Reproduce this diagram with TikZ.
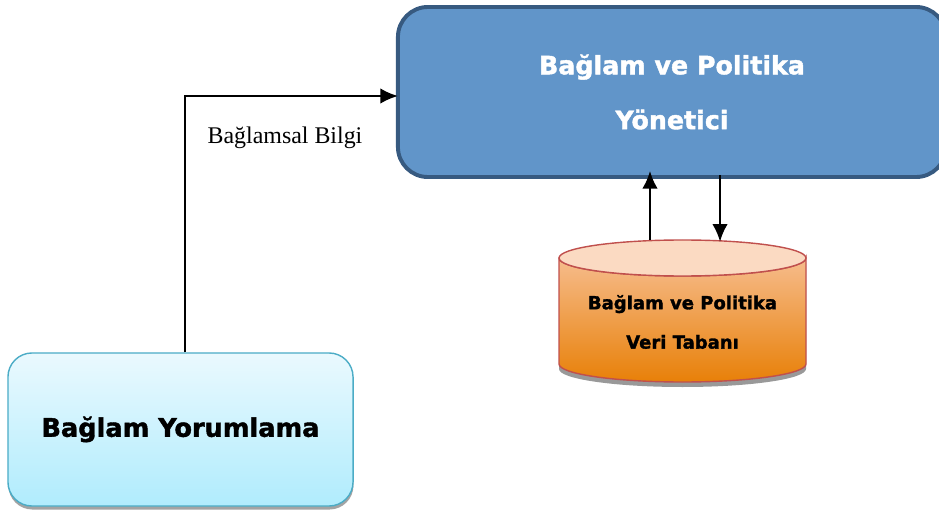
\documentclass[tikz,border=0pt]{standalone}
\usepackage{fontspec}
\setmainfont{Liberation Serif}
\newfontfamily\boldsans[FakeBold=1.6]{DejaVu Sans Bold}
\usetikzlibrary{arrows.meta,shadows}

\definecolor{mgrfill}{HTML}{6195C9}
\definecolor{mgrline}{HTML}{375A80}
\definecolor{interptop}{HTML}{EAF9FE}
\definecolor{interpbot}{HTML}{B0ECFD}
\definecolor{interpline}{HTML}{4BACC6}
\definecolor{dbtop}{HTML}{F6BC8C}
\definecolor{dbbot}{HTML}{E88008}
\definecolor{dbend}{HTML}{FBDAC2}
\definecolor{dbline}{HTML}{C0504D}

\tikzset{
  mgrbox/.style={draw=mgrline, line width=2.8pt, fill=mgrfill, rounded corners=0.75cm,
    minimum width=13.7cm, minimum height=4.25cm, align=center, text=white,
    font=\boldsans\fontsize{18}{39}\selectfont},
  interpbox/.style={draw=interpline, line width=1pt, top color=interptop, bottom color=interpbot,
    rounded corners=0.6cm, minimum width=8.625cm, minimum height=3.825cm,
    drop shadow={shadow xshift=0.3pt, shadow yshift=-2.5pt, fill=black!45, opacity=0.8},
    font=\boldsans\fontsize{18.2}{22}\selectfont},
  dbtext/.style={minimum width=6.175cm, minimum height=4.1cm, align=center,
    font=\boldsans\fontsize{12.8}{28}\selectfont},
  flow/.style={line width=1.6pt, ->},
}

\begin{document}
\begin{tikzpicture}[x=0.025cm, y=-0.025cm, >={Latex[length=12.5pt,width=11pt]}]
  \useasboundingbox (0,0) rectangle (939,511);
  \clip (0,0) rectangle (939,511);

  % manager box
  \node[mgrbox] (mgr) at (672,92) {Bağlam ve Politika\\Yönetici};

  % interpretation box
  \node[interpbox] (interp) at (180.5,429.5) {Bağlam Yorumlama};

  % database cylinder
  \fill[black!40] (559,263) -- (559,369) arc (180:0:123.5 and 18) -- (806,263) -- cycle;
  \draw[dbline, line width=1pt, top color=dbtop, bottom color=dbbot]
    (559,258) -- (559,364) arc (180:0:123.5 and 18) -- (806,258) arc (0:180:123.5 and 18) -- cycle;
  \draw[dbline, line width=1pt, fill=dbend] (682.5,258) ellipse (123.5 and 18);
  \node[dbtext] (db) at (682.5,322) {Bağlam ve Politika\\Veri Tabanı};

  % connectors
  \draw[flow] ([xshift=0.11cm]interp.north) |- ([xshift=0.05cm,yshift=-0.1cm]mgr.west);
  \node[font=\fontsize{17}{20}\selectfont] (lbl) at (285,138) {Bağlamsal Bilgi};
  \draw[flow] ([xshift=-0.8125cm]db.north) -- ([xshift=-0.8125cm,yshift=0.2cm]db.north |- mgr.south);
  \draw[flow] ([xshift=0.9375cm,yshift=0.1cm]db.north |- mgr.south) -- ([xshift=0.9375cm,yshift=-0.05cm]db.north);
\end{tikzpicture}
\end{document}
